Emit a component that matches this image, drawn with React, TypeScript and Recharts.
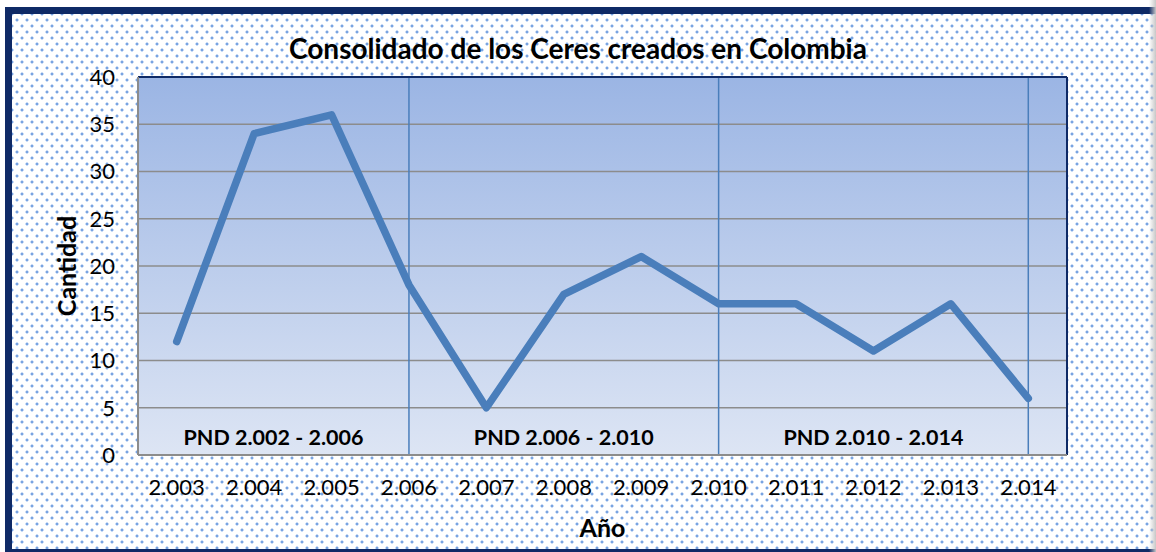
import React from "react";
import {
  LineChart,
  Line,
  XAxis,
  YAxis,
  CartesianGrid,
  ReferenceLine,
  ReferenceArea,
  Label,
} from "recharts";

const years = ["2.003", "2.004", "2.005", "2.006", "2.007", "2.008", "2.009", "2.010", "2.011", "2.012", "2.013", "2.014"];
const ceres = [12, 34, 36, 18, 5, 17, 21, 16, 16, 11, 16, 6];
const yTicks = [0, 5, 10, 15, 20, 25, 30, 35, 40];
const periodNames = ["PND 2.002 - 2.006", "PND 2.006 - 2.010", "PND 2.010 - 2.014"];
// period boundaries, in category index units (-0.5 = left edge of plot)
const periodStart = [-0.5, 3, 7];
const periodEnd = [3, 7, 11];

const FONT = "Lato, 'Open Sans', sans-serif";
const NAVY = "#0f2a66";
const LINE = "#4a7ebb";
const GRID = "#8c8c8c";

const data = years.map((year, i) => ({ i, year, ceres: ceres[i] }));
const xTicks = years.map((_, i) => i);

export default function App() {
  return (
    <div
      style={{
        position: "fixed",
        left: 0,
        top: 0,
        width: 1156,
        height: 552,
        overflow: "hidden",
        background: "#fff",
        fontFamily: FONT,
      }}
    >
      {/* outer frame with dotted fill */}
      <div
        style={{
          position: "absolute",
          left: 5,
          top: 7,
          width: 1160,
          height: 535,
          border: `8px solid ${NAVY}`,
          borderTopWidth: 7,
          borderLeftWidth: 7,
          backgroundColor: "#fff",
          backgroundImage:
            "radial-gradient(circle, #79a4e2 1.2px, transparent 1.8px), radial-gradient(circle, #79a4e2 1.2px, transparent 1.8px)",
          backgroundSize: "10px 12px",
          backgroundPosition: "0px 0px, 5px 6px",
        }}
      />
      <div
        style={{
          position: "absolute",
          left: 1149,
          top: 0,
          width: 7,
          height: 552,
          background: "linear-gradient(to right, rgba(255,255,255,0), #c8c8c8)",
        }}
      />
      <div
        style={{
          position: "absolute",
          left: 0,
          top: 32,
          width: 1156,
          textAlign: "center",
          fontSize: 28,
          lineHeight: "32px",
          fontWeight: 700,
          color: "#000",
        }}
      >
        Consolidado de los Ceres creados en Colombia
      </div>
      <div style={{ position: "absolute", left: 0, top: 0 }}>
        <LineChart
          width={1156}
          height={552}
          data={data}
          margin={{ top: 77, right: 89, bottom: 0, left: 0 }}
        >
          <defs>
            <linearGradient id="plotFill" x1="0" y1="0" x2="0" y2="1">
              <stop offset="0%" stopColor="#9bb5e4" />
              <stop offset="100%" stopColor="#dde5f4" />
            </linearGradient>
          </defs>
          <CartesianGrid
            vertical={false}
            stroke={GRID}
            strokeWidth={1.5}
            fill="url(#plotFill)"
            fillOpacity={1}
          />
          <XAxis
            type="number"
            dataKey="i"
            domain={[-0.5, 11.5]}
            ticks={xTicks}
            interval={0}
            tickFormatter={(v: number) => years[v]}
            height={97}
            tickLine={false}
            tickSize={0}
            tickMargin={24}
            axisLine={{ stroke: GRID, strokeWidth: 2 }}
            tick={{ fill: "#000", fontSize: 22, fontFamily: FONT }}
          >
            <Label
              value="Año"
              position="insideBottom"
              offset={15}
              style={{ fill: "#000", fontSize: 25, fontWeight: 700, fontFamily: FONT }}
            />
          </XAxis>
          <YAxis
            type="number"
            domain={[0, 40]}
            ticks={yTicks}
            interval={0}
            width={138}
            tickLine={false}
            tickSize={0}
            tickMargin={23}
            axisLine={{ stroke: GRID, strokeWidth: 2 }}
            tick={{ fill: "#000", fontSize: 22, fontFamily: FONT }}
          >
            <Label
              value="Cantidad"
              angle={-90}
              position="insideLeft"
              offset={67}
              style={{ textAnchor: "middle", fill: "#000", fontSize: 25, fontWeight: 700, fontFamily: FONT }}
            />
          </YAxis>
          {periodNames.map((name, k) => (
            <ReferenceArea
              key={name}
              x1={periodStart[k]}
              x2={periodEnd[k]}
              y1={0}
              y2={40}
              fill="none"
              stroke="none"
              ifOverflow="visible"
              label={{
                value: name,
                position: "insideBottom",
                offset: 10,
                fill: "#000",
                fontSize: 21.5,
                fontWeight: 700,
                fontFamily: FONT,
              }}
            />
          ))}
          {periodEnd.map((x) => (
            <ReferenceLine key={x} x={x} stroke={LINE} strokeWidth={1.5} />
          ))}
          <ReferenceLine y={40} stroke={NAVY} strokeWidth={2} />
          <ReferenceLine x={11.5} stroke={NAVY} strokeWidth={2} />
          <Line
            type="linear"
            dataKey="ceres"
            stroke={LINE}
            strokeWidth={7.5}
            strokeLinejoin="round"
            strokeLinecap="round"
            dot={false}
            activeDot={false}
            isAnimationActive={false}
          />
        </LineChart>
      </div>
    </div>
  );
}
